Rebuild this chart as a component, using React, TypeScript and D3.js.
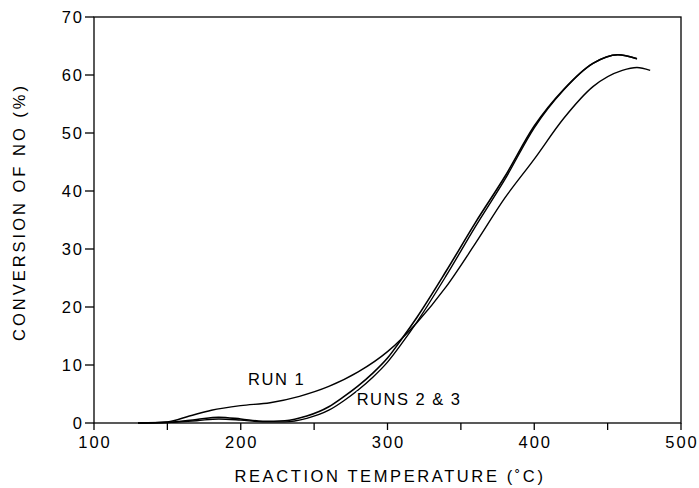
import React, { useEffect, useRef } from 'react'
import * as d3 from 'd3'

// Run 1: temperature (°C) and conversion of NO (%)
const run1Temp = [130, 150, 165, 180, 200, 220, 240, 260, 280, 300, 320, 340, 360, 380, 400, 420, 440, 460, 470, 479]
const run1Conv = [0, 0.2, 1.2, 2.2, 3.0, 3.5, 4.6, 6.3, 8.8, 12.3, 17.3, 23.5, 31.0, 38.8, 45.5, 52.5, 58.0, 60.8, 61.3, 60.8]

// Runs 2 & 3 follow each other closely
const run2Temp = [130, 150, 170, 185, 200, 215, 230, 245, 260, 270, 280, 290, 300, 310, 320, 340, 360, 380, 400, 420, 440, 457, 470]
const run2Conv = [0, 0.1, 0.6, 1.0, 0.7, 0.3, 0.4, 1.2, 2.8, 4.5, 6.4, 8.6, 11.2, 14.6, 18.2, 26.2, 34.6, 42.5, 51.2, 57.5, 62.0, 63.5, 62.8]

const run3Temp = [130, 150, 170, 185, 200, 215, 230, 245, 260, 270, 280, 290, 300, 310, 320, 340, 360, 380, 400, 420, 440, 457, 470]
const run3Conv = [0, 0.1, 0.4, 0.7, 0.5, 0.2, 0.2, 0.8, 2.2, 3.8, 5.7, 7.9, 10.5, 13.8, 17.4, 25.4, 33.9, 42.0, 50.9, 57.4, 62.0, 63.5, 62.8]

const xTicks = [100, 150, 200, 250, 300, 350, 400, 450, 500]
const xTickLabels = [100, 200, 300, 400, 500]
const yTicks = [0, 10, 20, 30, 40, 50, 60, 70]

const FONT = '"Liberation Sans", Arial, Helvetica, sans-serif'

export default function App() {
  const svgRef = useRef<SVGSVGElement>(null)

  useEffect(() => {
    if (!svgRef.current) return
    const svg = d3.select(svgRef.current)
    svg.selectAll('*').remove()

    const x = d3.scaleLinear().domain([100, 500]).range([94, 681])
    const y = d3.scaleLinear().domain([0, 70]).range([423, 17])

    // frame
    svg
      .append('rect')
      .attr('x', x(100))
      .attr('y', y(70))
      .attr('width', x(500) - x(100))
      .attr('height', y(0) - y(70))
      .attr('fill', 'none')
      .attr('stroke', '#000')
      .attr('stroke-width', 1.3)

    // x ticks (outward)
    svg
      .selectAll('.xtick')
      .data(xTicks)
      .join('line')
      .attr('x1', (d) => x(d))
      .attr('x2', (d) => x(d))
      .attr('y1', y(0))
      .attr('y2', y(0) + 7)
      .attr('stroke', '#000')
      .attr('stroke-width', 1.3)

    svg
      .selectAll('.xlab')
      .data(xTickLabels)
      .join('text')
      .attr('x', (d) => x(d) + 1)
      .attr('y', 448)
      .attr('text-anchor', 'middle')
      .style('font-family', FONT)
      .style('font-size', '16.5px')
      .style('letter-spacing', '2px')
      .text((d) => d)

    // y ticks (outward)
    svg
      .selectAll('.ytick')
      .data(yTicks)
      .join('line')
      .attr('x1', x(100) - 9)
      .attr('x2', x(100))
      .attr('y1', (d) => y(d))
      .attr('y2', (d) => y(d))
      .attr('stroke', '#000')
      .attr('stroke-width', 1.3)

    svg
      .selectAll('.ylab')
      .data(yTicks)
      .join('text')
      .attr('x', x(100) - 10)
      .attr('y', (d) => y(d) + 6)
      .attr('text-anchor', 'end')
      .style('font-family', FONT)
      .style('font-size', '16.5px')
      .style('letter-spacing', '2px')
      .text((d) => d)

    // curves
    const line = d3
      .line<[number, number]>()
      .x((d) => x(d[0]))
      .y((d) => y(d[1]))
      .curve(d3.curveMonotoneX)

    const series: { t: number[]; v: number[]; w: number }[] = [
      { t: run1Temp, v: run1Conv, w: 1.4 },
      { t: run2Temp, v: run2Conv, w: 1.6 },
      { t: run3Temp, v: run3Conv, w: 1.4 },
    ]
    series.forEach((s) => {
      svg
        .append('path')
        .datum(s.t.map((t, i) => [t, s.v[i]] as [number, number]))
        .attr('d', line)
        .attr('fill', 'none')
        .attr('stroke', '#000')
        .attr('stroke-width', s.w)
    })

    // curve labels
    const labels = [
      { text: 'RUN 1', t: 205, v: 6.5 },
      { text: 'RUNS 2 & 3', t: 279, v: 3.1 },
    ]
    svg
      .selectAll('.clab')
      .data(labels)
      .join('text')
      .attr('x', (d) => x(d.t))
      .attr('y', (d) => y(d.v))
      .style('font-family', FONT)
      .style('font-size', '16.5px')
      .style('letter-spacing', '1.5px')
      .style('paint-order', 'stroke')
      .style('stroke', '#fff')
      .style('stroke-width', '3px')
      .text((d) => d.text)

    // axis titles
    svg
      .append('text')
      .attr('x', 390)
      .attr('y', 482)
      .attr('text-anchor', 'middle')
      .style('font-family', FONT)
      .style('font-size', '16.5px')
      .style('letter-spacing', '2.6px')
      .text('REACTION TEMPERATURE (˚C)')

    svg
      .append('text')
      .attr('transform', 'translate(25,212) rotate(-90)')
      .attr('text-anchor', 'middle')
      .style('font-family', FONT)
      .style('font-size', '16.5px')
      .style('letter-spacing', '3px')
      .text('CONVERSION OF NO (%)')
  }, [])

  return (
    <svg
      ref={svgRef}
      width={699}
      height={488}
      style={{ position: 'absolute', left: 0, top: 0, background: '#fff' }}
    ></svg>
  )
}
